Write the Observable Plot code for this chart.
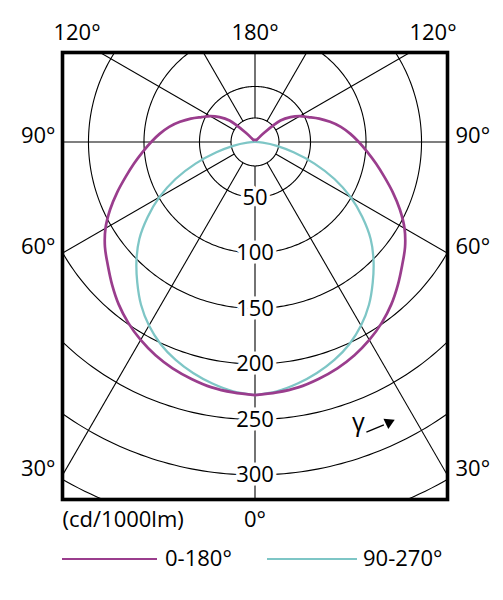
<!DOCTYPE html>
<html>
<head>
<meta charset="utf-8">
<script src="https://cdn.jsdelivr.net/npm/d3@7"></script>
<script src="https://cdn.jsdelivr.net/npm/@observablehq/plot@0.6"></script>
<style>
  html, body { margin: 0; padding: 0; background: #fff; }
  body { font-family: "Open Sans", sans-serif; color: #000; }
  #wrap { position: relative; width: 503px; height: 600px; overflow: hidden; }
  .legend { position: relative; width: 503px; height: 60px; font-size: 22px; }
  .legend .sw { position: absolute; height: 0; border-top: 2.2px solid; top: 18px; }
  .legend .lb { position: absolute; top: 2px; line-height: 30px; white-space: nowrap; }
</style>
</head>
<body>
<div id="wrap"><div id="chart"></div></div>
<script>
// ---- data ----
const gammaAngles = [0,5,10,15,20,25,30,35,40,45,50,55,60,65,70,75,80,85,90,
                     95,100,105,110,115,120,125,130,135,140,145,150,155,160,165,170,175,180];
// cd/1000lm, C0-C180 plane
const intensity0to180 = [228,226.5,224.5,221,217,212,206,199,191,182,173,165,155.5,144,132,120.5,110.5,101.5,93.5,
                         86,78.5,70,61.5,53,46.5,39,30,12,3,2,2,2,2,2,2,2,2];
// cd/1000lm, C90-C270 plane
const intensity90to270 = [228,225.5,221,215.5,209,201,191,179,165,151,136,118,99.5,79,57,36,20,7,0,
                          0,0,0,0,0,0,0,0,0,0,0,0,0,0,0,0,0,0];
const seriesNames = ["0-180°", "90-270°"];
const seriesColors = ["#9a3d8d", "#7ec6c6"];
const ringValues = [50, 100, 150, 200, 250, 300];
const ringLabels = ["50", "100", "150", "200", "250", "300"];
const extraRings = [21.6, 350];
const rayAngles = [0, 30, 60, 90, 120, 150, 180];
const sideLabelAngles = [90, 60, 30];
const sideLabels = ["90°", "60°", "30°"];
const topLabelAngles = [120, 180];
const topLabels = ["120°", "180°"];
const bottomLabel = "0°";
const unitLabel = "(cd/1000lm)";
const gammaSymbol = "γ";

// ---- frame geometry (in cd/1000lm units of the radial scale) ----
const W = 503, H = 540;
const mL = 62, mR = 56, mT = 52, mB = 41;
const xHalf = 173.4, yTop = -80.6, yBottom = 322.1;
const rad = Math.PI / 180;
const FS = 22;

function polar(v, g, side) { return {x: side * v * Math.sin(g * rad), y: v * Math.cos(g * rad)}; }

// curves: right side gamma up, left side back down
function curvePoints(values, name) {
  const pts = [];
  gammaAngles.forEach((g, i) => pts.push({...polar(values[i], g, 1), name}));
  for (let i = gammaAngles.length - 2; i >= 0; i--) pts.push({...polar(values[i], gammaAngles[i], -1), name});
  return pts.filter((p, i) => i === 0 || Math.hypot(p.x - pts[i-1].x, p.y - pts[i-1].y) > 1e-6);
}
const curve1 = curvePoints(intensity0to180, seriesNames[0]);
const curve2 = curvePoints(intensity90to270, seriesNames[1]);

// rings
const ringPts = [];
for (const v of [...extraRings, ...ringValues]) {
  for (let t = 0; t <= 360; t += 1) ringPts.push({...polar(v, t, 1), v});
}
// rays
const rays = [];
for (const g of rayAngles) {
  for (const s of (g === 0 || g === 180) ? [1] : [1, -1]) {
    const a = polar(extraRings[0], g, s), b = polar(700, g, s);
    rays.push({x1: a.x, y1: a.y, x2: b.x, y2: b.y});
  }
}
// ring labels
const ringLabelData = ringValues.map((v, i) => ({x: 0, y: v, t: ringLabels[i]}));
// side labels where rays meet the side edges
const sideLeft = sideLabelAngles.map((g, i) => ({x: -xHalf, y: g === 90 ? 0 : xHalf / Math.tan(g * rad), t: sideLabels[i]}));
const sideRight = sideLabelAngles.map((g, i) => ({x: xHalf, y: g === 90 ? 0 : xHalf / Math.tan(g * rad), t: sideLabels[i]}));
// top labels where rays meet the top edge
const topHit = topLabelAngles.map((g, i) => ({g, x: g === 180 ? 0 : yTop * Math.tan(g * rad), t: topLabels[i]}));
const topLeft = topHit.filter(d => d.g !== 180).map(d => ({x: -Math.abs(d.x), t: d.t}));
const topRight = topHit.filter(d => d.g !== 180).map(d => ({x: Math.abs(d.x), t: d.t}));
const topCenter = topHit.filter(d => d.g === 180);

// gamma direction arrow
const arrowR = 280, arrowFrom = 21, arrowTo = 24.5, headAt = 25.5, symbolAt = 20.2, symbolR = 270;
const shaft = [{a: polar(arrowR, arrowFrom, 1), b: polar(arrowR, arrowTo, 1)}];
const head = [{...polar(arrowR, headAt, 1), rot: 90 - headAt}];
const gammaText = [{...polar(symbolR, symbolAt, 1), t: gammaSymbol}];

const font = "'Open Sans', sans-serif";
const chart = Plot.plot({
  width: W, height: H,
  marginLeft: mL, marginRight: mR, marginTop: mT, marginBottom: mB,
  x: {domain: [-xHalf, xHalf], axis: null},
  y: {domain: [yTop, yBottom], reverse: true, axis: null},
  style: {fontFamily: font, background: "white", overflow: "visible"},
  marks: [
    Plot.line(ringPts, {x: "x", y: "y", z: "v", stroke: "black", strokeWidth: 1.1, clip: true}),
    Plot.link(rays, {x1: "x1", y1: "y1", x2: "x2", y2: "y2", stroke: "black", strokeWidth: 1.1, clip: true}),
    Plot.text(ringLabelData, {x: "x", y: "y", text: "t", fontSize: FS, fill: "black",
      stroke: "white", strokeWidth: 7, paintOrder: "stroke"}),
    Plot.line(curve2, {x: "x", y: "y", stroke: seriesColors[1], strokeWidth: 2.3, curve: "catmull-rom"}),
    Plot.line(curve1, {x: "x", y: "y", stroke: seriesColors[0], strokeWidth: 2.7, curve: "catmull-rom"}),
    Plot.link(shaft, {x1: d => d.a.x, y1: d => d.a.y, x2: d => d.b.x, y2: d => d.b.y, stroke: "black", strokeWidth: 1.3}),
    Plot.dot(head, {x: "x", y: "y", symbol: "triangle", r: 4.2, fill: "black", rotate: "rot"}),
    Plot.text(gammaText, {x: "x", y: "y", text: "t", fontSize: 25, fill: "black"}),
    Plot.frame({stroke: "black", strokeWidth: 3.6}),
    Plot.text(sideLeft, {x: "x", y: "y", text: "t", fontSize: FS, textAnchor: "end", lineAnchor: "middle", dx: -7, dy: -6, fill: "black"}),
    Plot.text(sideRight, {x: "x", y: "y", text: "t", fontSize: FS, textAnchor: "start", lineAnchor: "middle", dx: 8, dy: -6, fill: "black"}),
    Plot.text(topLeft, {x: "x", frameAnchor: "top", text: "t", fontSize: FS, lineAnchor: "middle", dx: -23, dy: -20, fill: "black"}),
    Plot.text(topRight, {x: "x", frameAnchor: "top", text: "t", fontSize: FS, lineAnchor: "middle", dx: 23, dy: -20, fill: "black"}),
    Plot.text(topCenter, {x: "x", frameAnchor: "top", text: "t", fontSize: FS, lineAnchor: "middle", dy: -20, fill: "black"}),
    Plot.text([bottomLabel], {x: 0, frameAnchor: "bottom", text: d => d, fontSize: FS, lineAnchor: "middle", dy: 20, fill: "black"}),
    Plot.text([unitLabel], {frameAnchor: "bottom-left", text: d => d, fontSize: FS, textAnchor: "start", lineAnchor: "middle", dy: 20, fill: "black"})
  ]
});
document.getElementById("chart").appendChild(chart);

// legend below the plot
const legend = document.createElement("div");
legend.className = "legend";
const swatchLeft = [62, 267], swatchWidth = [95, 90], labelLeft = [165, 363];
seriesNames.forEach((n, i) => {
  const sw = document.createElement("div");
  sw.className = "sw";
  sw.style.left = swatchLeft[i] + "px";
  sw.style.width = swatchWidth[i] + "px";
  sw.style.borderTopColor = seriesColors[i];
  legend.appendChild(sw);
  const lb = document.createElement("div");
  lb.className = "lb";
  lb.style.left = labelLeft[i] + "px";
  lb.textContent = n;
  legend.appendChild(lb);
});
document.getElementById("wrap").appendChild(legend);
</script>
</body>
</html>
